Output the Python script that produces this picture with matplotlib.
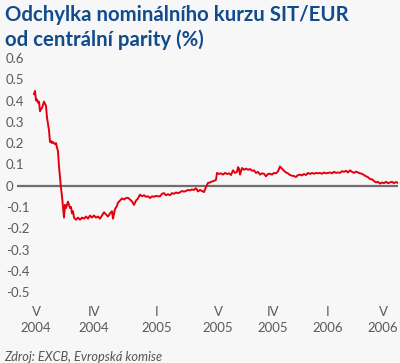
import matplotlib
matplotlib.use('Agg')
import matplotlib.pyplot as plt

# dny od 28.6.2004 (vstup SIT do ERM II)
dny = [0, 2, 4, 6, 8, 10, 12, 14, 16, 18, 20, 22, 24, 26, 28, 30, 32, 34, 36, 38,
       40, 42, 44, 46, 48, 50, 52, 54, 56, 58, 60, 62, 64, 66, 68, 70, 72, 74, 76, 78,
       80, 82, 84, 88, 92, 96, 100, 104, 108, 112, 116, 120, 124, 128, 132, 136, 140, 144, 148, 152,
       156, 158, 162, 166, 168, 172, 176, 180, 184, 188, 192, 196, 200, 204, 208, 212, 216, 220, 224, 228,
       232, 236, 240, 244, 248, 252, 256, 260, 264, 268, 272, 276, 280, 284, 288, 292, 296, 300, 304, 308,
       312, 316, 320, 324, 328, 332, 336, 340, 344, 348, 352, 356, 360, 364, 366, 370, 374, 378, 382, 386,
       390, 394, 398, 402, 406, 408, 410, 412, 416, 420, 424, 428, 432, 436, 440, 444, 448, 452, 456, 460,
       464, 468, 472, 476, 480, 484, 488, 492, 496, 500, 504, 508, 512, 516, 520, 524, 528, 532, 536, 540,
       544, 548, 552, 556, 560, 564, 568, 572, 576, 580, 584, 588, 592, 596, 600, 604, 608, 612, 616, 620,
       624, 628, 632, 636, 640, 644, 648, 652, 656, 660, 664, 668, 672, 676, 680, 684, 688, 692, 696, 700,
       704, 708, 712, 716, 720, 724, 728]

odchylka = [0.43, 0.445, 0.40, 0.405, 0.39, 0.395, 0.35, 0.36, 0.365, 0.38, 0.395, 0.385, 0.375, 0.32, 0.29, 0.26, 0.205, 0.21, 0.20, 0.205,
            0.20, 0.195, 0.20, 0.18, 0.16, 0.09, 0.04, -0.01, -0.05, -0.10, -0.15, -0.09, -0.105, -0.09, -0.075, -0.09, -0.105, -0.10, -0.13, -0.12,
            -0.15, -0.155, -0.16, -0.15, -0.16, -0.15, -0.155, -0.145, -0.155, -0.14, -0.15, -0.14, -0.15, -0.145, -0.155, -0.14, -0.125, -0.135, -0.145, -0.13,
            -0.12, -0.155, -0.11, -0.095, -0.08, -0.07, -0.06, -0.065, -0.058, -0.057, -0.065, -0.074, -0.09, -0.07, -0.06, -0.042, -0.05, -0.045, -0.052, -0.05,
            -0.058, -0.05, -0.052, -0.048, -0.05, -0.05, -0.038, -0.035, -0.045, -0.04, -0.045, -0.035, -0.038, -0.032, -0.035, -0.031, -0.025, -0.028, -0.025, -0.02,
            -0.022, -0.018, -0.02, -0.012, -0.027, -0.02, -0.025, -0.03, -0.006, 0.013, 0.015, 0.02, 0.022, 0.028, 0.06, 0.055, 0.058, 0.052, 0.06, 0.055,
            0.058, 0.05, 0.072, 0.06, 0.065, 0.087, 0.08, 0.052, 0.083, 0.075, 0.08, 0.075, 0.078, 0.07, 0.072, 0.06, 0.065, 0.052, 0.058, 0.056,
            0.044, 0.055, 0.056, 0.052, 0.06, 0.058, 0.067, 0.09, 0.08, 0.07, 0.062, 0.058, 0.05, 0.047, 0.045, 0.041, 0.05, 0.052, 0.048, 0.055,
            0.05, 0.06, 0.055, 0.06, 0.056, 0.06, 0.058, 0.06, 0.056, 0.062, 0.058, 0.06, 0.062, 0.058, 0.065, 0.06, 0.062, 0.06, 0.068, 0.065,
            0.07, 0.062, 0.072, 0.065, 0.06, 0.066, 0.062, 0.058, 0.056, 0.05, 0.044, 0.04, 0.031, 0.03, 0.022, 0.015, 0.018, 0.01, 0.015, 0.012,
            0.018, 0.012, 0.015, 0.018, 0.012, 0.017, 0.013]

popisky_x = ['V\n2004', 'IV\n2004', 'I\n2005', 'V\n2005', 'IV\n2005', 'I\n2006', 'V\n2006']
pozice_x = [4, 120, 246, 368, 478, 588, 698]
hodnoty_y = [0.6, 0.5, 0.4, 0.3, 0.2, 0.1, 0, -0.1, -0.2, -0.3, -0.4, -0.5]

pozadi = '#f7f7f7'
plt.rcParams['font.family'] = ['Lato', 'DejaVu Sans']

fig = plt.figure(figsize=(4.0, 3.63), dpi=100, facecolor=pozadi)
ax = fig.add_axes([0.0425, 0.166, 0.9525, 0.686])
ax.set_facecolor(pozadi)

ax.axhline(0, color='#6e6e6e', lw=1.6, zorder=1)
ax.plot(dny, odchylka, color='#e2000f', lw=1.4, zorder=2)

ax.set_xlim(-34, 728)
ax.set_ylim(-0.55, 0.62)
for s in ax.spines.values():
    s.set_visible(False)

ax.set_yticks(hodnoty_y)
ax.set_yticklabels(['%g' % v for v in hodnoty_y], ha='left')
ax.set_xticks(pozice_x)
ax.set_xticklabels(popisky_x, linespacing=1.45)
ax.tick_params(axis='both', length=0, labelsize=9.5, labelcolor='#5a5a5a')
ax.tick_params(axis='y', pad=8)
ax.tick_params(axis='x', pad=2)

fig.text(0.012, 0.985, 'Odchylka nominálního kurzu SIT/EUR\nod centrální parity (%)',
         ha='left', va='top', fontsize=14.7, fontweight='bold', color='#124b8c', linespacing=1.22)
fig.text(0.01, 0.0, 'Zdroj: EXCB, Evropská komise', ha='left', va='bottom',
         fontsize=9.2, style='italic', color='#555555')

fig.savefig('out.png', dpi=100, facecolor=pozadi)
